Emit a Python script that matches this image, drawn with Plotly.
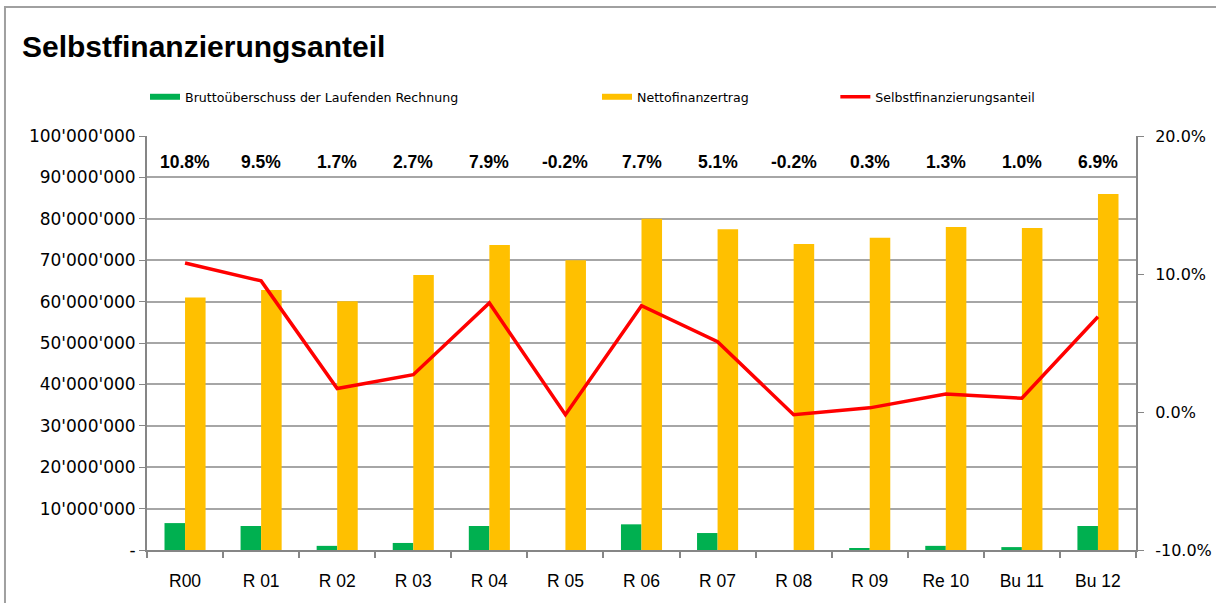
import plotly.graph_objects as go

categories = ["R00", "R 01", "R 02", "R 03", "R 04", "R 05", "R 06", "R 07", "R 08", "R 09", "Re 10", "Bu 11", "Bu 12"]
brutto = [6.5e6, 5.8e6, 1.0e6, 1.7e6, 5.8e6, 0, 6.2e6, 4.1e6, 0, 0.4e6, 1.0e6, 0.7e6, 5.8e6]
netto = [61.0e6, 62.8e6, 60.1e6, 66.4e6, 73.7e6, 70.0e6, 80.0e6, 77.5e6, 73.9e6, 75.4e6, 78.0e6, 77.8e6, 86.0e6]
anteil = [10.8, 9.5, 1.7, 2.7, 7.9, -0.2, 7.7, 5.1, -0.2, 0.3, 1.3, 1.0, 6.9]

left_vals = [i * 10_000_000 for i in range(11)]
left_text = ["-"] + ["{:,}".format(v).replace(",", "'") for v in left_vals[1:]]
right_vals = [-10, 0, 10, 20]
right_text = ["-10.0%", "0.0%", "10.0%", "20.0%"]

FONT = "Liberation Sans, Arial, sans-serif"
TICKFONT = "DejaVu Sans, sans-serif"
GREEN, ORANGE, RED = "#00B050", "#FFC000", "#FF0000"

fig = go.Figure()
fig.add_trace(go.Bar(x=categories, y=brutto, name="Bruttoüberschuss der Laufenden Rechnung",
                     marker=dict(color=GREEN, line=dict(width=0)), showlegend=False))
fig.add_trace(go.Bar(x=categories, y=netto, name="Nettofinanzertrag",
                     marker=dict(color=ORANGE, line=dict(width=0)), showlegend=False))
fig.add_trace(go.Scatter(x=categories, y=anteil, name="Selbstfinanzierungsanteil", yaxis="y2",
                         mode="lines", line=dict(color=RED, width=3.5), legend="legend3"))
# legend swatches (wide rectangles as in the reference)
fig.add_trace(go.Scatter(x=[None], y=[None], mode="lines", line=dict(color=GREEN, width=6),
                         name="Bruttoüberschuss der Laufenden Rechnung", legend="legend"))
fig.add_trace(go.Scatter(x=[None], y=[None], mode="lines", line=dict(color=ORANGE, width=6),
                         name="Nettofinanzertrag", legend="legend2"))

for c, v in zip(categories, anteil):
    fig.add_annotation(x=c, y=18.1, xref="x", yref="y2", text="<b>%.1f%%</b>" % v,
                       showarrow=False, font=dict(family=FONT, size=17.5, color="#000000"))

fig.add_annotation(x=-0.1284, y=1.215, xref="paper", yref="paper", xanchor="left", yanchor="middle",
                   text="<b>Selbstfinanzierungsanteil</b>", showarrow=False,
                   font=dict(family=FONT, size=30, color="#000000"))

# outer chart border
fig.add_shape(type="rect", xref="paper", yref="paper", x0=-0.1436, x1=1.2, y0=-0.2, y1=1.3116,
              line=dict(color="#A0A0A0", width=2), fillcolor="rgba(0,0,0,0)", layer="below")

legend_common = dict(orientation="h", yref="paper", xref="paper", xanchor="left", yanchor="middle",
                     font=dict(family=TICKFONT, size=12.6, color="#000000"), bgcolor="rgba(0,0,0,0)",
                     itemwidth=30)

fig.update_layout(
    width=1216, height=603,
    margin=dict(l=147, r=80, t=136, b=53, autoexpand=False),
    paper_bgcolor="white", plot_bgcolor="white",
    barmode="group", bargap=0.46, bargroupgap=0,
    font=dict(family=FONT, size=16, color="#000000"),
    legend=dict(x=-0.002, y=1.094, **legend_common),
    legend2=dict(x=0.455, y=1.094, **legend_common),
    legend3=dict(x=0.696, y=1.094, **legend_common),
    xaxis=dict(showline=True, linecolor="#868686", linewidth=2, ticks="outside", tickson="boundaries",
               tickcolor="#868686", ticklen=6, tickwidth=1.5, tickfont=dict(family=FONT, size=17.5),
               showgrid=False, ticklabelstandoff=14),
    yaxis=dict(range=[0, 100e6], tickvals=left_vals, ticktext=left_text, showgrid=True,
               gridcolor="#A6A6A6", gridwidth=1.5, showline=True, linecolor="#868686", linewidth=2,
               ticks="outside", tickcolor="#868686", ticklen=6, tickfont=dict(family=TICKFONT, size=17),
               zeroline=False),
    yaxis2=dict(range=[-10, 20], overlaying="y", side="right", tickvals=right_vals, ticktext=right_text,
                showgrid=False, showline=True, linecolor="#868686", linewidth=2, ticks="outside",
                tickcolor="#868686", ticklen=6, tickfont=dict(family=TICKFONT, size=16), zeroline=False,
                ticklabelstandoff=8),
)

fig.write_html("out.html", config={"displayModeBar": False},
               post_script="document.body.style.margin='0px';")
